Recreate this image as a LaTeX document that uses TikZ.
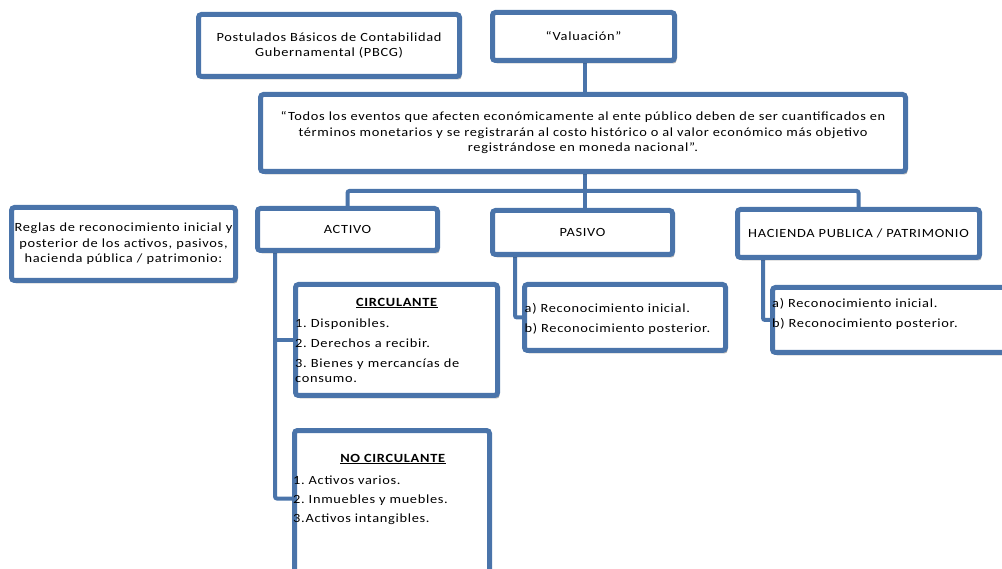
\documentclass[tikz,border=0pt]{standalone}
\usepackage{fontspec}
\setmainfont{Carlito}[FakeStretch=1.15, LetterSpace=5.5]
\usetikzlibrary{positioning}
\usetikzlibrary{shadows}
\usetikzlibrary{backgrounds}
\definecolor{mblue}{RGB}{74,116,170}
\frenchspacing
\tikzset{
  box/.style={draw=mblue, line width=5pt, rounded corners=3pt, fill=white, inner sep=0pt,
    drop shadow={shadow xshift=2pt, shadow yshift=-3pt, opacity=0.3, fill=black}},
  link/.style={draw=mblue, line width=4pt, rounded corners=2pt},
  txt/.style={inner sep=0pt, align=left},
  every node/.style={font=\fontsize{12.5}{15.5}\selectfont}
}

\begin{document}
\begin{tikzpicture}[x=1pt, y=-1pt]

    \useasboundingbox (0,0) rectangle (1002,569);
    \clip (0,0) rectangle (1002,569);

    % upper boxes
    \node [box, minimum width=261pt, minimum height=62pt, align=center] (post) at (329,45.5)
      {Postulados Básicos de Contabilidad\\Gubernamental (PBCG)};
    \node [box, minimum width=182pt, minimum height=48pt] (valu) at (583.5,36.5) {“Valuación”};
    \node [box, minimum width=645pt, minimum height=77pt, align=center] (main) at (583,133)
      {“Todos los eventos que afecten económicamente al ente público deben de ser cuantificados en\\
       términos monetarios y se registrarán al costo histórico o al valor económico más objetivo\\
       registrándose en moneda nacional”.};

    % second row
    \node [box, minimum width=218pt, minimum height=73pt, text width=224pt, align=center] (reglas) at (123.5,244)
      {Reglas de reconocimiento inicial y\\posterior de los activos, pasivos,\\hacienda pública / patrimonio:};
    \node [box, minimum width=180pt, minimum height=42pt] (activo) at (347.5,229.5) {ACTIVO};
    \node [box, minimum width=180pt, minimum height=44pt] (pasivo) at (582.5,232.5) {PASIVO};
    \node [box, minimum width=242pt, minimum height=48pt] (hacienda) at (858.5,233.5) {HACIENDA PUBLICA / PATRIMONIO};

    % lower boxes
    \node [box, minimum width=201pt, minimum height=66pt] (pasivosub) at (625,317.5) {};
    \node [txt, anchor=north west] (pasivotxt) at (524.5,303)
      {a) Reconocimiento inicial.\\[4.5pt]b) Reconocimiento posterior.};
    \node [box, minimum width=240pt, minimum height=65pt] (haciendasub) at (892.5,320) {};
    \node [txt, anchor=north west] (haciendatxt) at (772,298.5)
      {a) Reconocimiento inicial.\\[4.5pt]b) Reconocimiento posterior.};

    \node [box, minimum width=202pt, minimum height=111pt] (circ) at (396.5,340) {};
    \node [inner sep=0pt] (circtitle) at (397,303) {\underline{\textbf{CIRCULANTE}}};
    \node [txt, anchor=north west, text width=200pt] (circlist) at (295,318.5)
      {1. Disponibles.\\[4.5pt]2. Derechos a recibir.\\[4.5pt]3. Bienes y mercancías de\\consumo.};

    \node [box, minimum width=195pt, minimum height=170pt] (nocirc) at (392,515.5) {};
    \node [inner sep=0pt] (nocirctitle) at (393,459) {\underline{\textbf{NO CIRCULANTE}}};
    \node [txt, anchor=north west] (nocirclist) at (293,476)
      {1. Activos varios.\\[3.5pt]2. Inmuebles y muebles.\\[3.5pt]3.Activos intangibles.};

    % connectors
    \begin{pgfonlayer}{background}
      \coordinate (bus) at (585,191);
      \coordinate (actspine) at (275,250);
      \coordinate (passpine) at (515,254);
      \coordinate (hacspine) at (763,257);
      \draw [link] (valu.south -| bus) -- (main.north -| bus);
      \draw [link] (main.south -| bus) -- (pasivo.north -| bus);
      \draw [link] (activo.north) |- (bus) -| (hacienda.north);
      \draw [link] (actspine) |- ([yshift=17pt]nocirc.west);
      \draw [link] (actspine |- circ.west) -- (circ.west);
      \draw [link] (passpine) |- (pasivosub.west);
      \draw [link] (hacspine) |- (haciendasub.west);
    \end{pgfonlayer}

  \end{tikzpicture}
\end{document}
